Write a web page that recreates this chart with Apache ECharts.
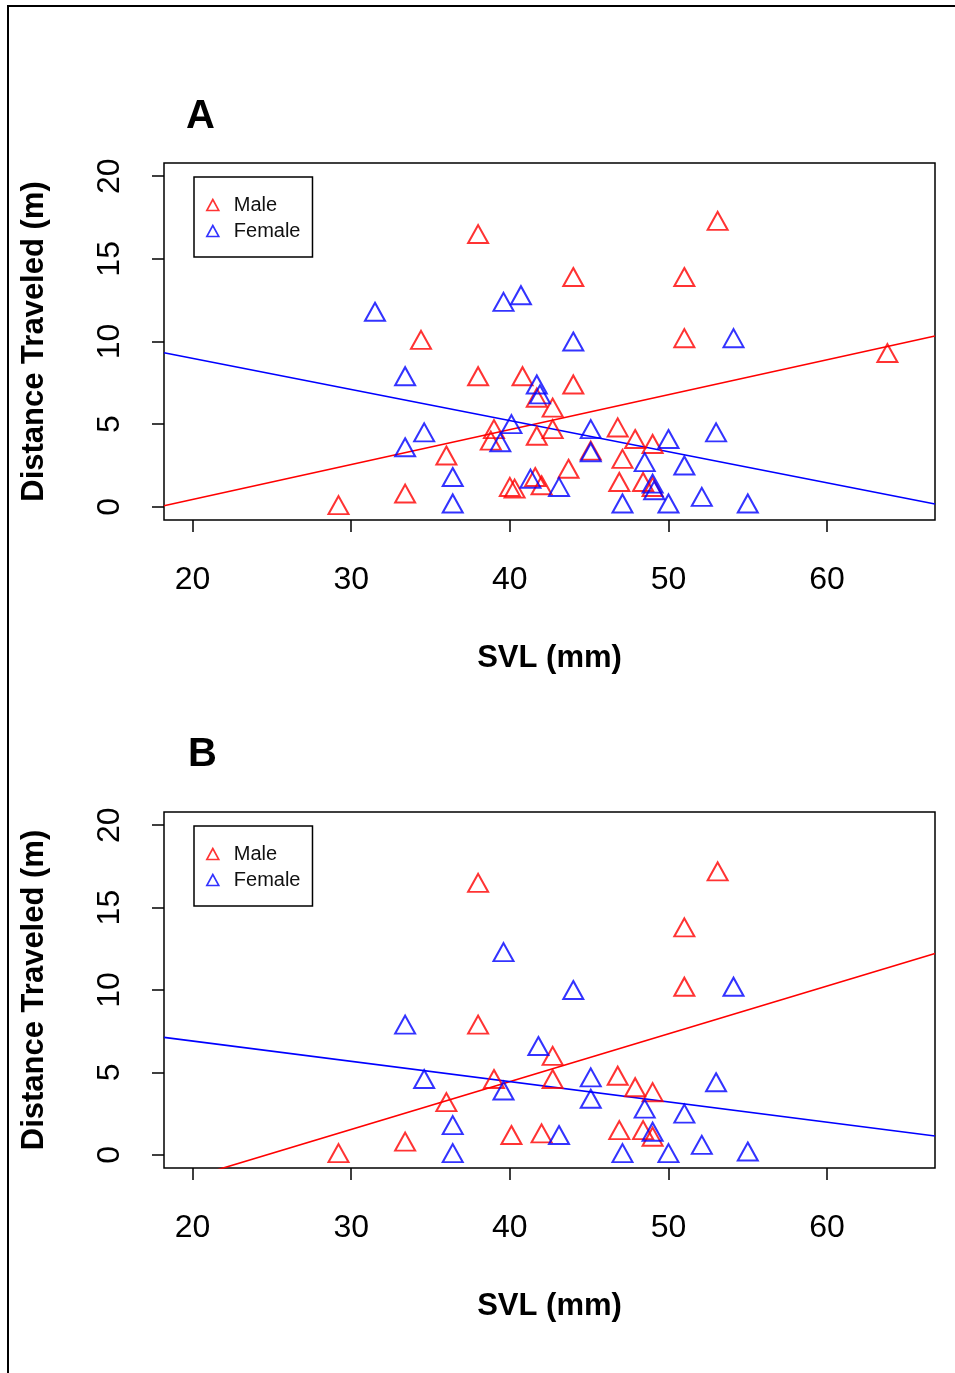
<!DOCTYPE html>
<html>
<head>
<meta charset="utf-8">
<script src="https://cdn.jsdelivr.net/npm/echarts@6/dist/echarts.min.js"></script>
<style>
html,body{margin:0;padding:0;background:#fff;}
#c{width:955px;height:1373px;}
</style>
</head>
<body>
<div id="c"></div>
<script>
// ---- data ----
const xTicks = [20, 30, 40, 50, 60];
const yTicks = [0, 5, 10, 15, 20];
const xLim = [18.2, 66.8];
const yLim = [-0.8, 20.8];

const maleA = [[29.2,0.1],[33.4,0.8],[34.4,10.1],[36.0,3.1],[38.0,16.5],[38.0,7.9],[39.0,4.7],[38.8,4.0],[40.0,1.2],[40.3,1.1],[40.8,7.9],[41.6,1.8],[41.7,6.6],[41.7,4.3],[42.0,1.3],[42.7,6.0],[42.7,4.7],[43.7,2.3],[44.0,13.9],[44.0,7.4],[45.1,3.4],[46.8,4.8],[46.9,1.5],[47.1,2.9],[47.9,4.1],[48.4,1.5],[49.0,3.8],[49.0,1.2],[51.0,13.9],[51.0,10.2],[53.1,17.3],[63.8,9.3]];
const femaleA = [[31.5,11.8],[33.4,7.9],[33.4,3.6],[34.6,4.5],[36.4,1.8],[36.4,0.2],[39.4,3.9],[39.6,12.4],[40.1,5.0],[40.7,12.8],[41.3,1.7],[41.7,7.4],[41.9,6.8],[43.1,1.2],[44.0,10.0],[45.1,4.7],[45.1,3.3],[47.1,0.2],[48.5,2.7],[49.0,1.4],[49.1,1.0],[50.0,4.1],[50.0,0.2],[51.0,2.5],[52.1,0.6],[53.0,4.5],[54.1,10.2],[55.0,0.2]];
const maleB = [[29.2,0.1],[33.4,0.8],[36.0,3.2],[38.0,16.5],[38.0,7.9],[39.0,4.6],[40.1,1.2],[42.0,1.3],[42.7,6.0],[42.7,4.6],[46.8,4.8],[46.9,1.5],[47.9,4.1],[48.4,1.5],[49.0,3.8],[49.0,1.1],[51.0,13.8],[51.0,10.2],[53.1,17.2]];
const femaleB = [[33.4,7.9],[34.6,4.6],[36.4,1.8],[36.4,0.1],[39.6,12.3],[39.6,3.9],[41.8,6.6],[43.1,1.2],[44.0,10.0],[45.1,4.7],[45.1,3.4],[47.1,0.1],[48.5,2.8],[49.0,1.4],[50.0,0.1],[51.0,2.5],[52.1,0.6],[53.0,4.4],[54.1,10.2],[55.0,0.2]];

// regression fits: [intercept, slope]
const fitMaleA = [-3.78, 0.2113];
const fitFemaleA = [12.75, -0.1883];
const fitMaleB = [-7.16, 0.290];
const fitFemaleB = [9.37, -0.1232];

const panelLabels = ['A', 'B'];
const xName = 'SVL (mm)';
const yName = 'Distance Traveled (m)';
const legendNames = ['Male', 'Female'];

// ---- chart ----
const RED = '#ff0000', BLUE = '#0000ff';
const FONT = 'Liberation Sans, Arial, sans-serif';
const chart = echarts.init(document.getElementById('c'), null, {renderer: 'canvas'});

function fitLine(f) {
  return [[xLim[0], f[0] + f[1] * xLim[0]], [xLim[1], f[0] + f[1] * xLim[1]]];
}

const grids = [
  {left: 164, top: 163, width: 771, height: 357},
  {left: 164, top: 812, width: 771, height: 356}
];

function xAxisFor(i) {
  return {
    gridIndex: i, type: 'value', min: xLim[0], max: xLim[1],
    name: xName, nameLocation: 'middle', nameGap: 123,
    nameTextStyle: {fontSize: 31, fontWeight: 'bold', color: '#000', fontFamily: FONT},
    axisLine: {show: false, onZero: false},
    splitLine: {show: false},
    axisTick: {show: true, customValues: xTicks, length: 12, lineStyle: {color: '#000', width: 1.5}},
    axisLabel: {customValues: xTicks, fontSize: 32, color: '#000', margin: 44, fontFamily: FONT}
  };
}
function yAxisFor(i) {
  return {
    gridIndex: i, type: 'value', min: yLim[0], max: yLim[1],
    name: yName, nameLocation: 'middle', nameGap: 114,
    nameTextStyle: {fontSize: 31, fontWeight: 'bold', color: '#000', fontFamily: FONT},
    axisLine: {show: false, onZero: false},
    splitLine: {show: false},
    axisTick: {show: true, customValues: yTicks, length: 12, lineStyle: {color: '#000', width: 1.5}},
    axisLabel: {customValues: yTicks, fontSize: 32, color: '#000', margin: 38, rotate: 90, fontFamily: FONT}
  };
}

function scatter(name, data, color, i) {
  return {
    type: 'scatter', name: name, xAxisIndex: i, yAxisIndex: i, data: data,
    symbol: 'triangle', symbolSize: [20, 18],
    itemStyle: {color: 'rgba(255,255,255,0)', borderColor: color, borderWidth: 2},
    emphasis: {disabled: true}, silent: true, z: 3
  };
}
function line(name, fit, color, i) {
  return {
    type: 'line', name: name, xAxisIndex: i, yAxisIndex: i, data: fitLine(fit),
    showSymbol: false, clip: true, silent: true,
    lineStyle: {color: color, width: 1.6}, z: 2
  };
}
function legendFor(top) {
  return {
    data: legendNames, orient: 'vertical', left: 194, top: top,
    padding: [18, 12, 16, 12], itemGap: 6, itemWidth: 12, itemHeight: 11,
    borderColor: '#000', borderWidth: 1.5, selectedMode: false,
    itemStyle: {borderWidth: 1.6},
    textStyle: {fontSize: 20, color: '#111', fontFamily: FONT, padding: [0, 0, 0, 10]}
  };
}

chart.setOption({
  animation: false,
  backgroundColor: '#fff',
  title: [
    {text: panelLabels[0], left: 186, top: 97, textStyle: {fontSize: 40, fontWeight: 'bold', color: '#000', fontFamily: FONT}, padding: 0},
    {text: panelLabels[1], left: 188, top: 735, textStyle: {fontSize: 40, fontWeight: 'bold', color: '#000', fontFamily: FONT}, padding: 0}
  ],
  legend: [legendFor(177), legendFor(826)],
  grid: grids.map(g => Object.assign({show: true, borderColor: '#000', borderWidth: 1.5, backgroundColor: 'transparent'}, g)),
  xAxis: [xAxisFor(0), xAxisFor(1)],
  yAxis: [yAxisFor(0), yAxisFor(1)],
  series: [
    line('Male fit A', fitMaleA, RED, 0),
    line('Female fit A', fitFemaleA, BLUE, 0),
    scatter('Male', maleA, RED, 0),
    scatter('Female', femaleA, BLUE, 0),
    line('Male fit B', fitMaleB, RED, 1),
    line('Female fit B', fitFemaleB, BLUE, 1),
    scatter('Male', maleB, RED, 1),
    scatter('Female', femaleB, BLUE, 1)
  ],
  graphic: [
    {type: 'rect', shape: {x: 8, y: 6, width: 1000, height: 1400}, style: {fill: 'transparent', stroke: '#000', lineWidth: 2}, silent: true}
  ]
});
</script>
</body>
</html>
